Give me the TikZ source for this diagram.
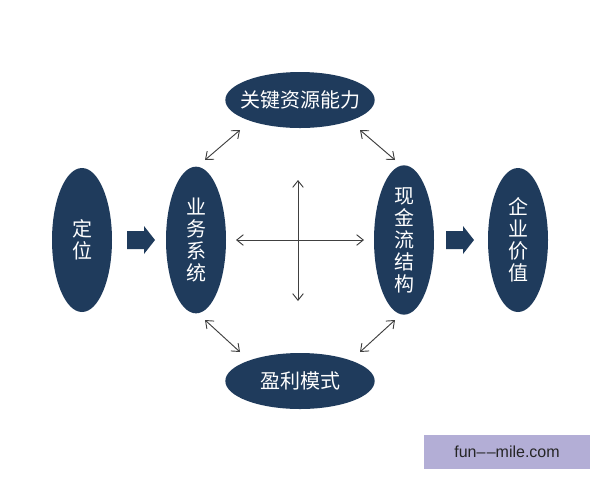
\documentclass[tikz,border=0pt]{standalone}
\usepackage{fontspec}
\newfontfamily\cjk{Noto Sans CJK SC}
\setmainfont{Liberation Sans}
\usetikzlibrary{shapes.geometric,arrows.meta}
\begin{document}
\begin{tikzpicture}[x=0.75pt,y=-0.75pt,
  ov/.style={ellipse,fill=navy,text=white,inner sep=0pt,font=\cjk\fontsize{15pt}{16.5pt}\selectfont,align=center},
  vert/.style={ov,minimum width=45pt,minimum height=108pt},
  horz/.style={ov,minimum width=112pt,minimum height=42pt,inner xsep=-10pt},
  blk/.style={fill=navy},
  da/.style={{Straight Barb[length=5pt,width=8pt]}-{Straight Barb[length=5pt,width=8pt]},draw=linegray,line width=0.7pt}]
\definecolor{navy}{HTML}{1F3B5C}
\definecolor{linegray}{HTML}{404040}
\definecolor{wm}{HTML}{B3AED6}
\fill[white] (0,0) rectangle (600,480);
\node[vert] (dw) at (82,240) {定\\位};
\node[vert,minimum height=110pt] (yw) at (196,240) {业\\务\\系\\统};
\node[vert,minimum height=112pt] (xj) at (404,240) {现\\金\\流\\结\\构};
\node[vert] (qy) at (518,240) {企\\业\\价\\值};
\node[horz] (gj) at (300,100) {关键资源能力};
\node[horz] (yl) at (300,381) {盈利模式};
\fill[blk] (127,231) -- (144,231) -- (144,226) -- (155,240) -- (144,254) -- (144,249) -- (127,249) -- cycle;
\fill[blk] (446,231) -- (463,231) -- (463,226) -- (474,240) -- (463,254) -- (463,249) -- (446,249) -- cycle;
\coordinate (cl) at (236,240); \coordinate (cr) at (364,240);
\coordinate (ct) at (298,180); \coordinate (cb) at (298,301);
\draw[da] (cl) -- (cr);
\draw[da] (ct) -- (cb);
\coordinate (d1a) at (205,160); \coordinate (d1b) at (240,130);
\coordinate (d2a) at (360,130); \coordinate (d2b) at (395,160);
\coordinate (d3a) at (205,320); \coordinate (d3b) at (240,352);
\coordinate (d4a) at (360,352); \coordinate (d4b) at (395,320);
\draw[da] (d1a) -- (d1b);
\draw[da] (d2a) -- (d2b);
\draw[da] (d3a) -- (d3b);
\draw[da] (d4a) -- (d4b);
\node[fill=wm,minimum width=124pt,minimum height=26pt,inner sep=0pt,font=\fontsize{12pt}{14pt}\selectfont,text=black!85] (wmk) at (507,452) {fun–\kern1pt–mile.com};
\end{tikzpicture}
\end{document}
